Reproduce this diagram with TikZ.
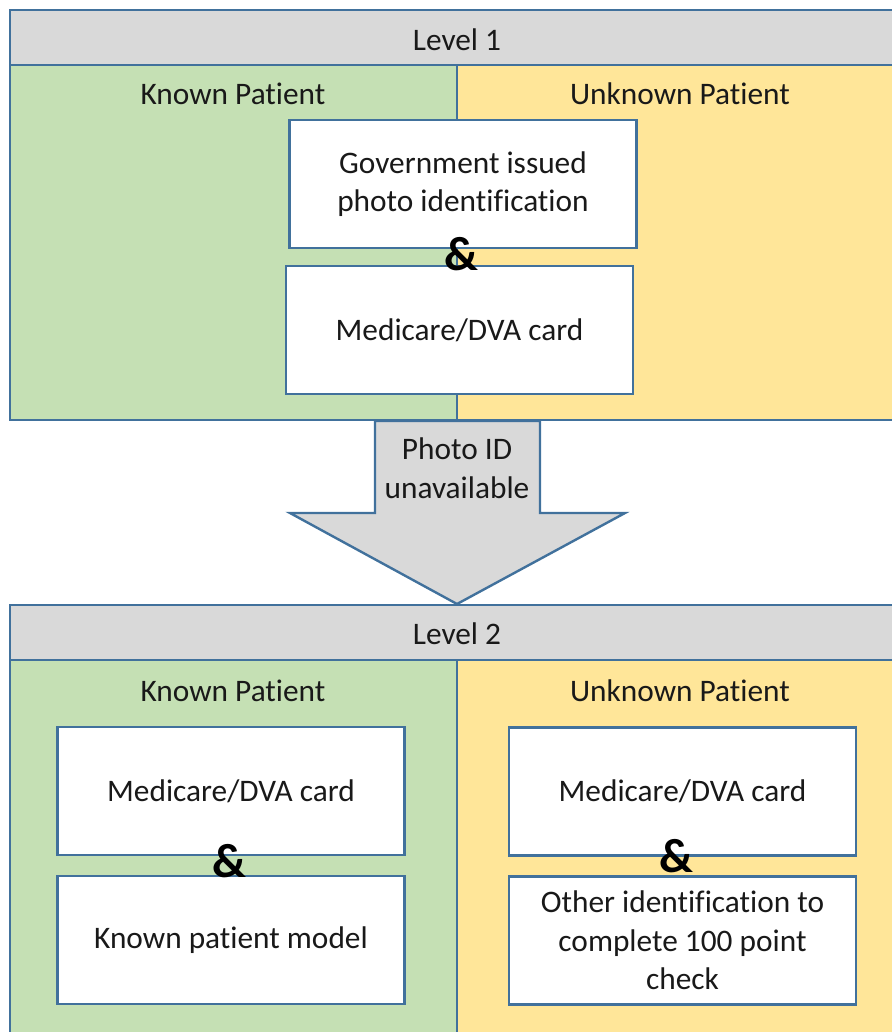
\documentclass[tikz,border=0pt]{standalone}
\usepackage{fontspec}
\setmainfont{Carlito}[Ligatures=CommonOff]
\usetikzlibrary{positioning}
\definecolor{edgeblue}{HTML}{41719C}
\definecolor{hdrgrey}{HTML}{D9D9D9}
\definecolor{knowngreen}{HTML}{C5E0B4}
\definecolor{unknownyellow}{HTML}{FFE699}
\begin{document}
\begin{tikzpicture}[x=0.75pt,y=-0.75pt,
    every node/.style={font=\fontsize{23.5}{29}\selectfont, text=black!90},
    hdr/.style={draw=edgeblue, line width=1.8pt, fill=hdrgrey},
    pane/.style={draw=edgeblue, line width=1.8pt},
    card/.style={draw=edgeblue, line width=1.8pt, fill=white, align=center,
      minimum width=260pt, minimum height=96pt, inner sep=2pt},
    amp/.style={font=\fontsize{36}{36}\selectfont\bfseries, text=black, inner sep=0pt}]
  \useasboundingbox (0,0) rectangle (892,1032);

  % level 1
  \draw[pane, fill=knowngreen] (10,65) rectangle (457,420);
  \draw[pane, fill=unknownyellow] (457,65) rectangle (900,420);
  \draw[hdr] (10,10) rectangle (900,65);
  \node(LV1) at (457,40) {Level 1};
  \node(K1) at (233,94) {Known Patient};
  \node(U1) at (680,94) {Unknown Patient};
  \node[card](G1) at (463,184) {Government issued\\photo identification};
  \node[card](M1) at (459.5,330) {Medicare/DVA card};
  \node[amp](A1) at (461,254) {\&};

  % arrow down
  \draw[hdr] (375,421) -- (540,421) -- (540,513) -- (625,513) -- (457,604)
    -- (290,513) -- (375,513) -- cycle;
  \node[align=center](PH) at (457,468) {Photo ID\\unavailable};

  % level 2
  \draw[pane, fill=knowngreen] (10,660) rectangle (457,1040);
  \draw[pane, fill=unknownyellow] (457,660) rectangle (900,1040);
  \draw[hdr] (10,605) rectangle (900,660);
  \node(LV2) at (457,634) {Level 2};
  \node(K2) at (233,691) {Known Patient};
  \node(U2) at (680,691) {Unknown Patient};
  \node[card](M2) at (231,791) {Medicare/DVA card};
  \node[card](KM) at (231,940) {Known patient model};
  \node[amp](A2) at (229,861) {\&};
  \node[card](M3) at (682.5,791.5) {Medicare/DVA card};
  \node[card](OI) at (682.5,940.5) {Other identification to\\complete 100 point\\check};
  \node[amp](A3) at (676,856) {\&};
\end{tikzpicture}
\end{document}
